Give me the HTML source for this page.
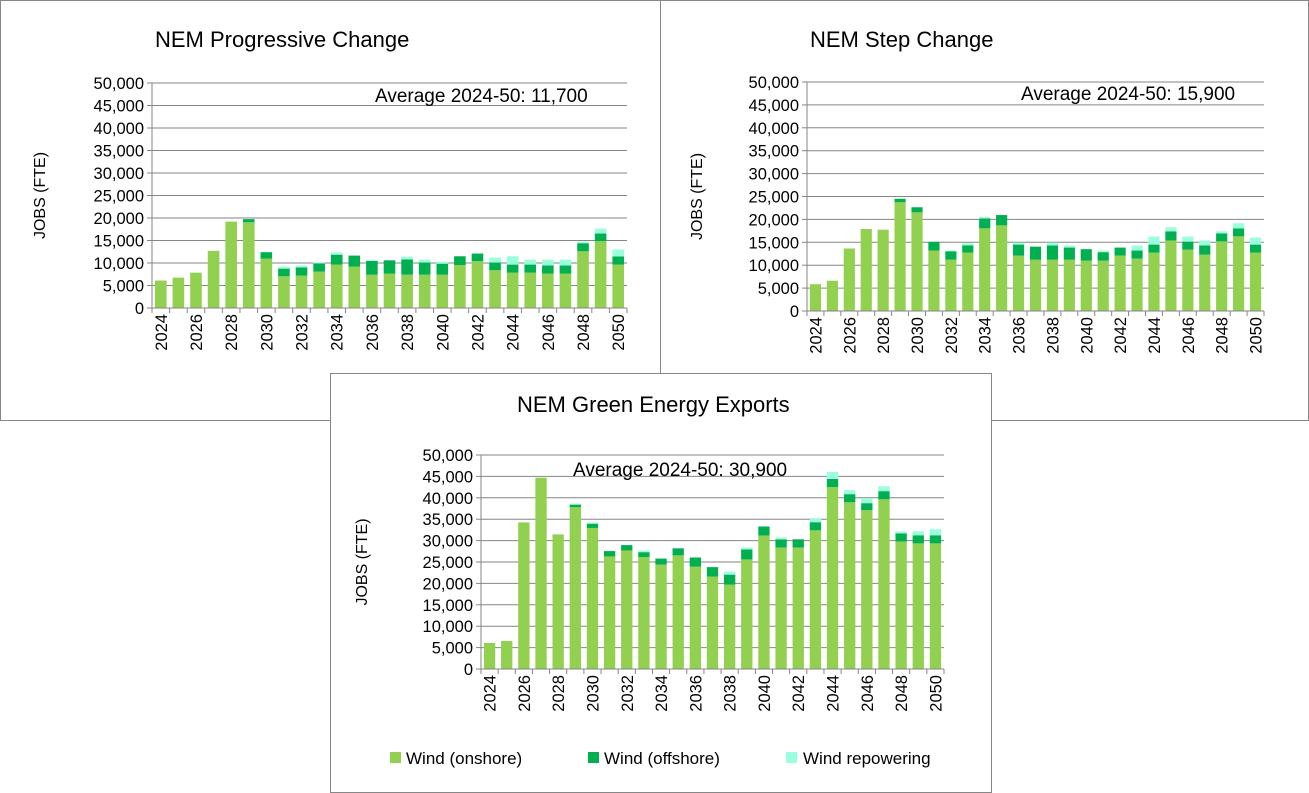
<!DOCTYPE html>
<html><head><meta charset="utf-8"><style>
body{margin:0;background:#fff;}
svg{display:block;font-family:"Liberation Sans",Arial,sans-serif;}
</style></head><body>
<svg id="root" width="1309" height="793"></svg>
<script>
const years=[];for(let y=2024;y<=2050;y++)years.push(y);
const yTicks=[0,5000,10000,15000,20000,25000,30000,35000,40000,45000,50000];
const seriesNames=["Wind (onshore)","Wind (offshore)","Wind repowering"];
const pcOnshore=[6100,6750,7850,12700,19200,19050,11000,7050,7200,8100,9650,9200,7400,7650,7400,7400,7400,9550,10400,8400,7850,7850,7650,7650,12600,14850,9650];
const pcOffshore=[0,0,0,0,0,700,1400,1700,1800,1800,2200,2450,3050,2950,3400,2700,2450,1950,1700,1700,1800,1800,1800,1800,1800,1700,1800];
const pcRepower=[0,0,0,0,0,0,0,450,450,200,500,0,200,0,600,650,450,0,0,1100,1850,1100,1300,1300,350,1100,1550];
const scOnshore=[5850,6600,13650,17900,17750,23750,21550,13200,11200,12750,18050,18700,12100,11200,11200,11200,11000,11000,12100,11450,12750,15400,13400,12300,15200,16300,12750];
const scOffshore=[0,0,0,0,0,750,1100,1900,1850,1600,2150,2250,2400,2850,3100,2650,2500,1850,1750,1750,1750,2000,1750,2000,1750,1750,1750];
const scRepower=[0,0,0,0,0,0,0,0,150,450,300,0,450,0,650,450,0,350,0,1100,1750,900,1100,1100,450,1100,1550];
const geOnshore=[6100,6550,34250,44700,31450,37800,32950,26300,27700,26150,24400,26550,23950,21600,19700,25600,31200,28400,28400,32400,42500,38950,37100,39650,29800,29350,29350];
const geOffshore=[0,0,0,0,0,600,1000,1250,1250,1150,1400,1650,2100,2200,2350,2350,2100,1900,1900,1900,1900,1900,1650,1900,1900,1900,1900];
const geRepower=[0,0,0,0,0,250,250,0,0,400,0,0,0,0,700,450,0,450,0,950,1650,950,1150,1150,450,950,1400];
const colors=["#92D050","#00B050","#99FFDD"];
const NS="http://www.w3.org/2000/svg";
const root=document.getElementById('root');
function mk(tag,attrs,parent,text){const e=document.createElementNS(NS,tag);for(const k in attrs)e.setAttribute(k,attrs[k]);if(text!==undefined)e.textContent=text;parent.appendChild(e);return e;}
function panel(cfg){
  const g=mk('g',{},root);
  
  
  const bg=mk('rect',{x:cfg.px,y:cfg.py,width:cfg.pw,height:cfg.ph,fill:'#fff',stroke:'#878787','stroke-width':1},g);
  
  
  const t=mk('text',{x:cfg.tx,y:cfg.ty,'font-size':22,fill:'#000'},g,cfg.title);
  
  
  const x0=cfg.x0,x1=cfg.x1,y0=cfg.y0,yTop=cfg.yTop;
  const ys=v=>y0-(v/50000)*(y0-yTop);
  const slot=(x1-x0)/years.length;
  const xs=i=>x0+slot*(i+0.5);
  yTicks.forEach(v=>{
    if(v>0){const l=mk('line',{x1:x0,x2:x1,y1:ys(v),y2:ys(v),stroke:'#868686','stroke-width':1},g);
      }
    const tk=mk('line',{x1:x0-5,x2:x0,y1:ys(v),y2:ys(v),stroke:'#868686'},g);
    
    const lb=mk('text',{x:x0-8,y:ys(v)+6,'font-size':16.5,'text-anchor':'end',fill:'#000'},g,v.toLocaleString('en-US'));
    
  });
  const yt=mk('text',{x:0,y:0,'font-size':16,'text-anchor':'middle',transform:`translate(${x0-cfg.yto},${(y0+yTop)/2}) rotate(-90)`},g,'JOBS (FTE)');
  
  const bw=slot*0.66;
  years.forEach((yr,i)=>{
    let base=0;
    [cfg.on,cfg.off,cfg.rep].forEach((arr,s)=>{
      const v=arr[i];if(v<=0)return;
      const r=mk('rect',{x:xs(i)-bw/2,y:ys(base+v),width:bw,height:ys(base)-ys(base+v),fill:colors[s]},g);
      
      
      base+=v;
    });
  });
  mk('line',{x1:x0,x2:x0,y1:yTop,y2:y0,stroke:'#868686'},g);
  mk('line',{x1:x0,x2:x1,y1:y0,y2:y0,stroke:'#868686'},g);
  for(let i=0;i<=years.length;i++){mk('line',{x1:x0+slot*i,x2:x0+slot*i,y1:y0,y2:y0+5,stroke:'#868686'},g);}
  years.forEach((yr,i)=>{if(yr%2)return;
    const lb=mk('text',{x:0,y:0,'font-size':16.5,'text-anchor':'end',transform:`translate(${xs(i)+6},${y0+6}) rotate(-90)`},g,String(yr));
    
  });
  const av=mk('text',{x:cfg.ax,y:cfg.ay,'font-size':19,fill:'#000'},g,cfg.avg);
  
}
panel({name:'progressive-change-chart',px:0.5,py:0.5,pw:660,ph:420,title:'NEM Progressive Change',tx:155,ty:47,x0:152,x1:627,y0:308,yTop:83,yto:107,on:pcOnshore,off:pcOffshore,rep:pcRepower,ax:375,ay:102,avg:'Average  2024-50: 11,700'});
panel({name:'step-change-chart',px:660.5,py:0.5,pw:648,ph:420,title:'NEM Step Change',tx:810,ty:47,x0:807,x1:1264,y0:311,yTop:82,yto:105,on:scOnshore,off:scOffshore,rep:scRepower,ax:1021,ay:100,avg:'Average  2024-50: 15,900'});
panel({name:'green-energy-exports-chart',px:330.5,py:373.5,pw:661,ph:419,title:'NEM Green Energy Exports',tx:517,ty:412,x0:481,x1:944,y0:669,yTop:455,yto:114,on:geOnshore,off:geOffshore,rep:geRepower,ax:573,ay:476,avg:'Average  2024-50: 30,900'});
const lg=mk('g',{},root);


[[390,406],[588,604],[786,803]].forEach((p,s)=>{
  const r=mk('rect',{x:p[0],y:752,width:11,height:11,fill:colors[s]},lg);
  
  const t=mk('text',{x:p[1],y:764,'font-size':17},lg,seriesNames[s]);
  
});
</script>
</body></html>
